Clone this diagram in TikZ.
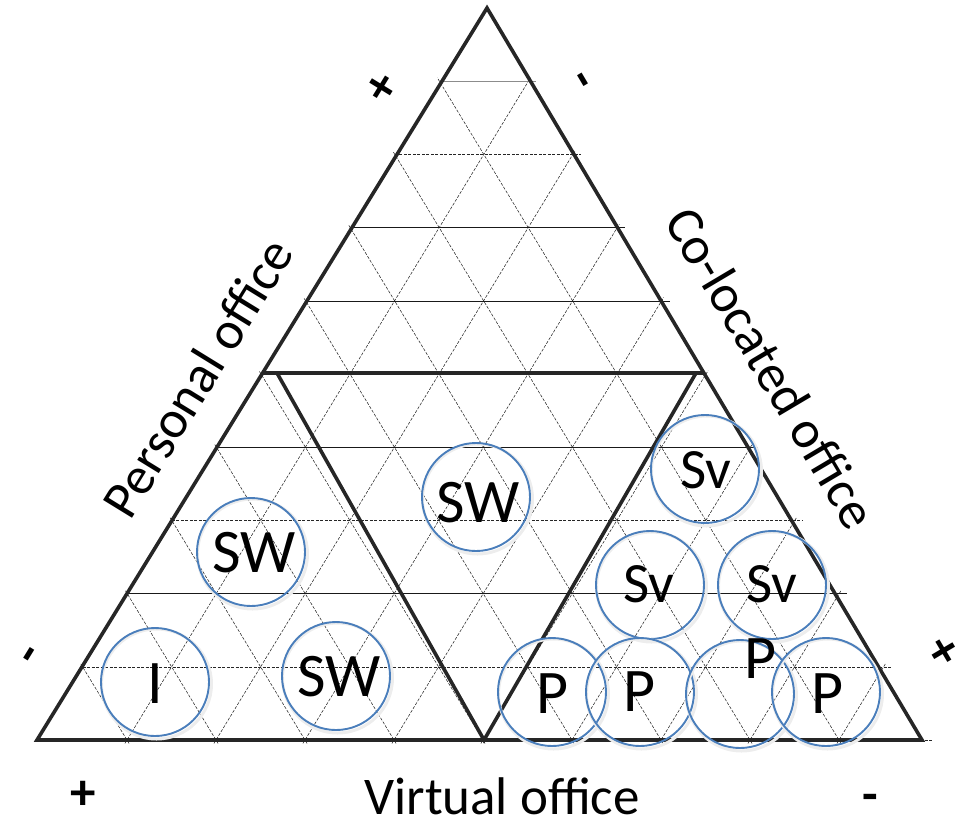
\documentclass[tikz,border=0pt]{standalone}
\usepackage{fontspec}
\setmainfont{Carlito}
\usetikzlibrary{calc}
\definecolor{edge}{HTML}{262626}
\definecolor{ringblue}{HTML}{4A7EBB}
\begin{document}
\begin{tikzpicture}[x=1pt,y=-1pt,
  outline/.style={draw=edge,line width=3.6pt},
  gridh/.style={draw=black!90,line width=0.6pt},
  gridg/.style={draw=black!45,line width=1.2pt},
  gridd/.style={draw=black!85,line width=0.55pt,dash pattern=on 3pt off 1.5pt},
  ring/.style={circle,draw=ringblue,line width=1.9pt,minimum size=108pt,inner sep=0pt},
  shade/.style={circle,draw=black!7,line width=3pt,minimum size=110pt,inner sep=0pt},
  lbl/.style={font=\fontsize{62}{62}\selectfont,inner sep=0pt,anchor=base},
  lbls/.style={font=\fontsize{57}{57}\selectfont,inner sep=0pt,anchor=base},
  axis/.style={font=\fontsize{53}{53}\selectfont,inner sep=0pt,anchor=base},
  sign/.style={font=\fontsize{51}{51}\selectfont\bfseries,inner sep=0pt}]
\useasboundingbox (0,0) rectangle (958,823);
% grid
\coordinate (A) at (38,740);
\coordinate (B) at (928,740);
\coordinate (C) at (484,8);
\foreach \k [evaluate=\k as \t using \k/10, evaluate=\k as \u using 1-\k/10] in {1,...,9}{
  \draw[gridd,shorten <=-4pt,shorten >=-4pt] ($(A)!\t!(B)$) -- ($(A)!\t!(C)$);
  \draw[gridd,shorten <=-4pt,shorten >=-4pt] ($(A)!\t!(B)$) -- ($(B)!\u!(C)$);
}
\foreach \k/\sty in {1/gridd,2/gridh,3/gridd,4/gridh,6/gridh,7/gridh,8/gridd,9/gridg}{
  \draw[\sty] ($(A)!\k/10!(C)$) -- ($(B)!\k/10!(C) + (8,0)$);
}
\draw[gridd] (A) -- ($(B)+(5,0)$);
% outline
\draw[outline] (37,740) -- (487,8) -- (922,740) -- cycle;
\draw[outline] (262,373) -- (704,373);
\draw[outline] (277,373) -- (484,740) -- (696,373);
% circles
\foreach \n/\x/\y in {r1/476/497, r2/251/552, r3/336/676, r4/155/682, r5/705/469, r6/650/585, r7/772/585, r8/552/692, r9/640/692, r10/740/694, r11/826/692}{
  \node[shade] at (\x+1.5,\y+2) {};
  \node[ring] (\n) at (\x,\y) {};
}
% circle labels
\node[lbl] (t1) at (478,522) {SW};
\node[lbl] (t2) at (254,572) {SW};
\node[lbl] (t3) at (339,696) {SW};
\node[lbl] (t4) at (155,703) {I};
\node[lbls] (t5) at (706,488) {Sv};
\node[lbls] (t6) at (649,602) {Sv};
\node[lbls] (t7) at (772,602) {Sv};
\node[lbl] (t8) at (553,713) {P};
\node[lbl] (t9) at (640,711) {P};
\node[lbl] (t10) at (761,678) {P};
\node[lbl] (t11) at (828,713) {P};
% axis labels
\node[axis,rotate=58.4] (pers) at (213,387) {Personal office};
\node[axis,rotate=-59.3] (colo) at (756,377) {Co-located office};
\node[axis] (virt) at (502,814) {Virtual office};
% signs
\node[sign,rotate=58.4] (s1) at (383,88) {+};
\node[sign,rotate=58.4,anchor=base] (s2) at (42,662) {-};
\node[sign,rotate=-59.3,anchor=base] (s3) at (570,87) {-};
\node[sign,rotate=-59.3] (s4) at (942,652) {+};
\node[sign] (s5) at (83,795) {+};
\node[sign,anchor=base] (s6) at (870,811) {-};
\end{tikzpicture}
\end{document}
